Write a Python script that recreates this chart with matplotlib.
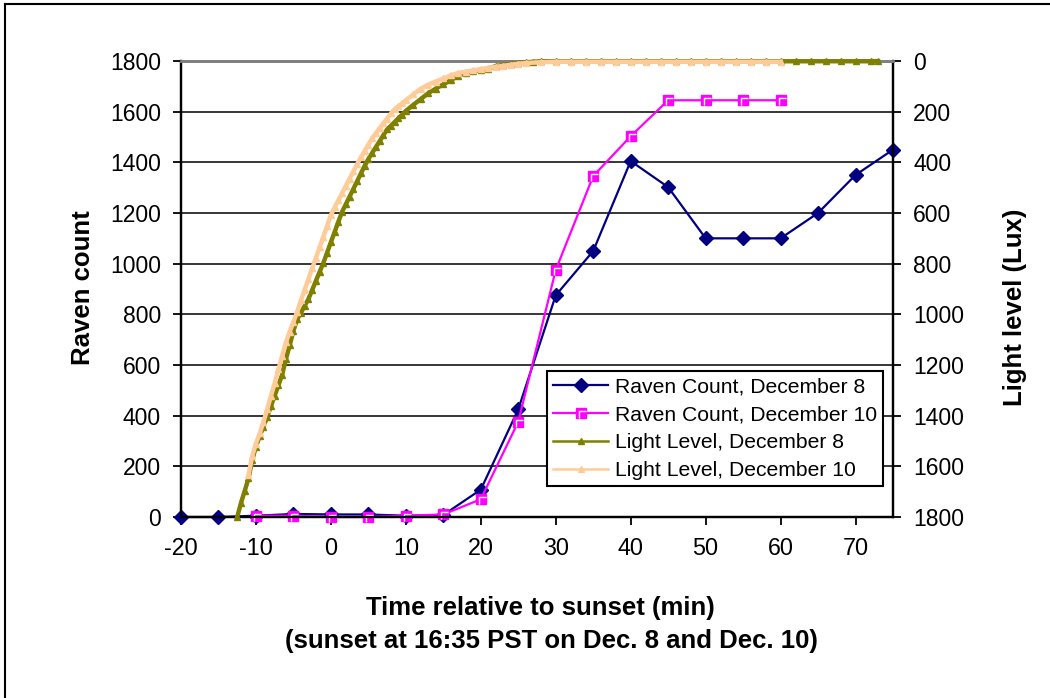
import matplotlib
matplotlib.use("Agg")
import matplotlib.pyplot as plt
from matplotlib.lines import Line2D
from matplotlib.path import Path
from matplotlib.legend_handler import HandlerTuple

# ---------------- data ----------------
raven_t_dec8 = [-20, -15, -10, -5, 0, 5, 10, 15, 20, 25, 30, 35, 40, 45, 50, 55, 60, 65, 70, 75]
raven_dec8 = [0, 0, 5, 12, 10, 10, 5, 8, 108, 425, 875, 1050, 1405, 1302, 1100, 1100, 1100, 1200, 1350, 1450]

raven_t_dec10 = [-10, -5, 0, 5, 10, 15, 20, 25, 30, 35, 40, 45, 50, 55, 60]
raven_dec10 = [5, 5, 0, 0, 5, 10, 70, 376, 975, 1346, 1503, 1645, 1645, 1645, 1645]

light_t_dec8 = [-12.5, -12, -11.5, -11, -10.5, -10, -9.5, -9, -8.5, -8, -7.5, -7, -6.5, -6, -5.5,
                -5, -4.5, -4, -3.5, -3, -2.5, -2, -1.5, -1, -0.5, 0, 0.5, 1, 1.5, 2, 2.5, 3,
                3.5, 4, 4.5, 5, 5.5, 6, 6.5, 7, 7.5, 8, 8.5, 9, 9.5, 10, 11, 12, 13, 14, 15,
                16, 17, 18, 19, 20, 21, 22, 23, 24, 25, 26, 27, 28, 30, 32, 34, 36, 38, 40,
                42, 44, 46, 48, 50, 52, 54, 56, 58, 60, 62, 64, 66, 68, 70, 72, 73]
light_dec8 = [1800, 1745, 1697, 1648, 1576, 1522, 1481, 1443, 1405, 1363, 1321, 1280, 1238, 1176, 1123,
              1065, 1020, 994, 966, 940, 904, 868, 832, 797, 756, 715, 675, 634, 595, 565, 535, 505,
              475, 444, 414, 387, 363, 340, 317, 293, 270, 256, 241, 226, 212, 197, 173, 150, 127, 109, 92,
              76, 59, 46, 40, 35, 30, 20, 15, 12, 8, 5, 3, 1, 1, 1, 1, 1, 1, 1,
              1, 1, 1, 1, 1, 1, 1, 1, 1, 1, 1, 1, 1, 1, 1, 1, 1]

light_t_dec10 = [-11, -10.5, -10, -9.5, -9, -8.5, -8, -7.5, -7, -6.5, -6, -5.5, -5, -4.5, -4,
                 -3.5, -3, -2.5, -2, -1.5, -1, -0.5, 0, 0.5, 1, 1.5, 2, 2.5, 3, 3.5, 4, 4.5,
                 5, 5.5, 6, 6.5, 7, 7.5, 8, 8.5, 9, 9.5, 10, 11, 12, 13, 14, 15, 16, 17, 18,
                 19, 20, 21, 22, 23, 24, 25, 26, 28, 30, 32, 34, 36, 38, 40, 42, 44, 46, 48,
                 50, 52, 54, 56, 58, 60]
light_dec10 = [1635, 1560, 1510, 1470, 1425, 1375, 1322, 1272, 1217, 1163, 1110, 1068, 1030, 990, 945,
               903, 861, 819, 777, 735, 693, 651, 608, 578, 550, 521, 493, 464, 436, 407, 380, 355,
               330, 305, 285, 265, 246, 227, 207, 190, 179, 167, 155, 132, 109, 93, 81, 69, 57, 47, 42,
               37, 32, 27, 23, 19, 15, 11, 8, 5, 3, 3, 3, 3, 3, 3, 3, 3, 3, 3,
               3, 3, 3, 3, 3, 3]

x_ticks = [-20, -10, 0, 10, 20, 30, 40, 50, 60, 70]
y_ticks = [0, 200, 400, 600, 800, 1000, 1200, 1400, 1600, 1800]

labels = ["Raven Count, December 8", "Raven Count, December 10",
          "Light Level, December 8", "Light Level, December 10"]

# ---------------- style ----------------
FONT = "Liberation Sans"
plt.rcParams["font.family"] = [FONT, "DejaVu Sans"]
plt.rcParams["axes.unicode_minus"] = False
NAVY = "#000080"
MAGENTA = "#FF00FF"
OLIVE = "#808000"
PEACH = "#FFCC99"

# white corner highlight inside the magenta squares (Excel-style marker)
corner = Path([(-0.5, -1.0), (-0.5, 0.5), (1.0, 0.5)],
              [Path.MOVETO, Path.LINETO, Path.LINETO])

fig = plt.figure(figsize=(10.5, 6.98), dpi=100)
W, H = 1050, 698
ax = fig.add_axes([181 / W, 1 - 517 / H, (893 - 181) / W, (517 - 61) / H])
ax2 = ax.twinx()

ax.set_xlim(-20, 75)
ax.set_ylim(0, 1800)
ax2.set_ylim(1800, 0)
ax.set_xticks(x_ticks)
ax.set_yticks(y_ticks)
ax2.set_yticks(y_ticks)

ax.set_axisbelow(True)
ax.yaxis.grid(True, color="black", linewidth=1.1)

for a in (ax, ax2):
    a.spines["top"].set_color("#808080")
    a.spines["top"].set_linewidth(2)
    for s in ("left", "bottom", "right"):
        a.spines[s].set_color("black")
        a.spines[s].set_linewidth(1.6)
    a.patch.set_visible(False)

ax.tick_params(axis="x", direction="out", length=5.5, width=1.3, pad=9, labelsize=16.8, top=False)
ax.tick_params(axis="y", direction="out", length=5.5, width=1.3, pad=9, labelsize=16.5, right=False)
ax2.tick_params(axis="y", direction="out", length=5.5, width=1.3, pad=9, labelsize=16.5)

# Raven counts (primary axis)
ax.plot(raven_t_dec8, raven_dec8, color=NAVY, lw=1.6, marker="D", ms=7.5,
        mfc=NAVY, mec=NAVY, clip_on=False, zorder=3)
ax.plot(raven_t_dec10, raven_dec10, color=MAGENTA, lw=1.6, marker="s", ms=7.5,
        mfc=MAGENTA, mec=MAGENTA, clip_on=False, zorder=3)
ax.plot(raven_t_dec10, raven_dec10, ls="none", marker=corner, ms=7.0,
        mfc="none", mec="white", mew=1.0, clip_on=False, zorder=3.1)

# Light levels (secondary axis, inverted)
ax2.plot(light_t_dec8, light_dec8, color=OLIVE, lw=3.2, marker="^", ms=4,
         mfc=OLIVE, mec=OLIVE, clip_on=False, zorder=3)
ax2.plot(light_t_dec10, light_dec10, color=PEACH, lw=3.2, marker="^", ms=4,
         mfc=PEACH, mec=PEACH, clip_on=False, zorder=3.2)

# legend handles
h8 = Line2D([], [], color=NAVY, lw=1.6, marker="D", ms=7.5, mfc=NAVY, mec=NAVY)
h10 = Line2D([], [], color=MAGENTA, lw=1.6, marker="s", ms=7.5, mfc=MAGENTA, mec=MAGENTA)
h10i = Line2D([], [], ls="none", marker=corner, ms=7.0, mfc="none", mec="white", mew=1.0)
hL8 = Line2D([], [], color=OLIVE, lw=1.8, marker="^", ms=4, mfc=OLIVE, mec=OLIVE)
hL10 = Line2D([], [], color=PEACH, lw=1.8, marker="^", ms=4, mfc=PEACH, mec=PEACH)

leg = ax2.legend([h8, (h10, h10i), hL8, hL10], labels,
                 handler_map={tuple: HandlerTuple(ndivide=1, pad=0)},
                 loc="upper left", bbox_to_anchor=(547 / W, 1 - 371 / H),
                 bbox_transform=fig.transFigure, borderaxespad=0,
                 frameon=True, fancybox=False, framealpha=1, edgecolor="black",
                 prop={"family": FONT, "size": 15.2}, handlelength=2.6,
                 handletextpad=0.3, labelspacing=0.42, borderpad=0.3)
leg.get_frame().set_linewidth(1.5)
leg.set_zorder(10)

# axis titles
fig.text(83 / W, 1 - 288 / H, "Raven count", rotation=90, ha="center", va="center",
         fontsize=18.5, fontweight="bold")
fig.text(1015 / W, 1 - 307 / H, "Light level (Lux)", rotation=90, ha="center", va="center",
         fontsize=18.5, fontweight="bold")
fig.text(540 / W, 1 - 608 / H, "Time relative to sunset (min)", ha="center", va="center",
         fontsize=18.5, fontweight="bold")
fig.text(551 / W, 1 - 641 / H, "(sunset at 16:35 PST on Dec. 8 and Dec. 10)", ha="center",
         va="center", fontsize=18.5, fontweight="bold")

# chart-area border (left and top edges visible)
fig.add_artist(Line2D([4.5 / W, 4.5 / W], [0, 1 - 3.5 / H], transform=fig.transFigure,
                      color="black", lw=1.5))
fig.add_artist(Line2D([4.5 / W, 1], [1 - 3.5 / H, 1 - 3.5 / H], transform=fig.transFigure,
                      color="black", lw=1.5))

fig.savefig("out.png", dpi=100)
